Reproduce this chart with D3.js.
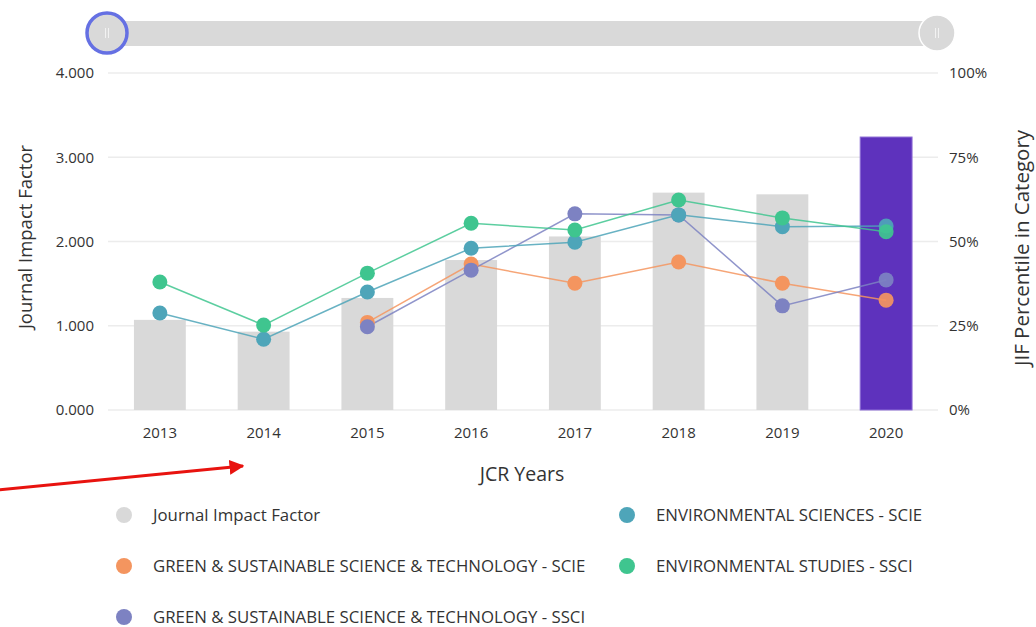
<!DOCTYPE html>
<html><head><meta charset="utf-8">
<script src="https://cdn.jsdelivr.net/npm/d3@7"></script>
<style>body{margin:0;background:#fff}svg{display:block;font-family:"Open Sans","Noto Sans",sans-serif}</style>
</head><body><svg id="c" width="1036" height="627"></svg>
<script>
const years = ["2013","2014","2015","2016","2017","2018","2019","2020"];
const jif = [1.07, 0.93, 1.33, 1.78, 2.06, 2.58, 2.56, 3.24];
const envSciScie = [28.8, 21.0, 35.0, 48.0, 49.8, 57.9, 54.4, 54.6];
const envStudSsci = [38.0, 25.2, 40.6, 55.4, 53.4, 62.3, 57.0, 52.9];
const greenScie = [null, null, 26.0, 43.3, 37.6, 43.9, 37.6, 32.6];
const greenSsci = [null, null, 24.7, 41.5, 58.2, 57.9, 30.9, 38.6];
const leftTicks = [0, 1, 2, 3, 4];
const rightTicks = [0, 25, 50, 75, 100];
const legendItems = ["Journal Impact Factor","ENVIRONMENTAL SCIENCES - SCIE","GREEN & SUSTAINABLE SCIENCE & TECHNOLOGY - SCIE","ENVIRONMENTAL STUDIES - SSCI","GREEN & SUSTAINABLE SCIENCE & TECHNOLOGY - SSCI"];

const series = [
  {name:"GREEN & SUSTAINABLE SCIENCE & TECHNOLOGY - SCIE", vals:greenScie, color:"#f4955f"},
  {name:"GREEN & SUSTAINABLE SCIENCE & TECHNOLOGY - SSCI", vals:greenSsci, color:"#7d82c2"},
  {name:"ENVIRONMENTAL SCIENCES - SCIE", vals:envSciScie, color:"#4ea5b9"},
  {name:"ENVIRONMENTAL STUDIES - SSCI", vals:envStudSsci, color:"#3fc58f"}
];
const legendColors = {"Journal Impact Factor":"#d9d9d9"};
series.forEach(s=>legendColors[s.name]=s.color);

const FONT = '"Open Sans","Noto Sans",sans-serif';
const svg = d3.select("#c");
const L=108, R=938, T=73, B=410;
const x = d3.scaleBand().domain(years).range([L,R]).paddingInner(0.5).paddingOuter(0.25);
const yL = d3.scaleLinear().domain([0,4]).range([B,T]);
const yR = d3.scaleLinear().domain([0,100]).range([B,T]);

// slider
svg.append("rect").attr("x",107).attr("y",21).attr("width",830).attr("height",25).attr("fill","#d9d9d9");
svg.append("circle").attr("cx",937).attr("cy",33).attr("r",18).attr("fill","#d9d9d9").attr("stroke","#fff").attr("stroke-width",1.5);
svg.append("circle").attr("cx",107).attr("cy",33).attr("r",20).attr("fill","#d9d9d9").attr("stroke","#6570e3").attr("stroke-width",3.5);
[107,937].forEach(cx=>{
  [-1.5,1.5].forEach(dx=>svg.append("line").attr("x1",cx+dx).attr("x2",cx+dx).attr("y1",28).attr("y2",38).attr("stroke","#f2f2f2").attr("stroke-width",1));
});

// gridlines
svg.append("g").selectAll("line").data(leftTicks).join("line")
  .attr("x1",L).attr("x2",R).attr("y1",d=>yL(d)).attr("y2",d=>yL(d))
  .attr("stroke","#ececec").attr("stroke-width",1.5);

// axes
const gl = svg.append("g").attr("transform",`translate(${L},0)`)
  .call(d3.axisLeft(yL).tickValues(leftTicks).tickFormat(d3.format(".3f")).tickSize(0).tickPadding(14));
const gr = svg.append("g").attr("transform",`translate(${R},0)`)
  .call(d3.axisRight(yR).tickValues(rightTicks).tickFormat(d=>d+"%").tickSize(0).tickPadding(11));
const gx = svg.append("g").attr("transform",`translate(0,${B})`)
  .call(d3.axisBottom(x).tickSize(0).tickPadding(17));
[gl,gr,gx].forEach(g=>{g.select(".domain").remove();g.selectAll("text").attr("font-size",15).attr("fill","#333").attr("font-family",FONT);});

// axis titles
svg.append("text").attr("transform","translate(32,237) rotate(-90)").attr("text-anchor","middle")
  .attr("font-size",18.5).attr("fill","#333").attr("font-family",FONT).text("Journal Impact Factor");
svg.append("text").attr("transform","translate(1029,248) rotate(-90)").attr("text-anchor","middle")
  .attr("font-size",20.5).attr("fill","#333").attr("font-family",FONT).text("JIF Percentile in Category");
svg.append("text").attr("x",522).attr("y",481).attr("text-anchor","middle")
  .attr("font-size",19.5).attr("fill","#333").attr("font-family",FONT).text("JCR Years");

// bars
svg.append("g").selectAll("rect").data(years).join("rect")
  .attr("x",d=>x(d)).attr("width",x.bandwidth())
  .attr("y",(d,i)=>yL(jif[i])).attr("height",(d,i)=>B-yL(jif[i]))
  .attr("fill",(d,i)=>i===years.length-1?"#5e32bd":"#d9d9d9")
  .attr("stroke",(d,i)=>i===years.length-1?"#8e6fd6":"none").attr("stroke-width",1);

// lines and points
const cx = d=>x(d)+x.bandwidth()/2;
series.forEach(s=>{
  const data = years.map((yr,i)=>({yr,v:s.vals[i]})).filter(d=>d.v!=null);
  svg.append("path").datum(data)
    .attr("d",d3.line().x(d=>cx(d.yr)).y(d=>yR(d.v)))
    .attr("fill","none").attr("stroke",s.color).attr("stroke-width",1.5).attr("stroke-opacity",0.85);
});
series.forEach(s=>{
  const data = years.map((yr,i)=>({yr,v:s.vals[i]})).filter(d=>d.v!=null);
  svg.append("g").selectAll("circle").data(data).join("circle")
    .attr("cx",d=>cx(d.yr)).attr("cy",d=>yR(d.v)).attr("r",7.5)
    .attr("fill",s.color).attr("fill-opacity",d=>d.yr==="2020"?0.92:1);
});

// legend
const legPos = [[124,515],[627,515],[124,566],[627,566],[124,617]];
legendItems.forEach((name,i)=>{
  const [lx,ly]=legPos[i];
  svg.append("circle").attr("cx",lx).attr("cy",ly).attr("r",8).attr("fill",legendColors[name]);
  svg.append("text").attr("x",lx+29).attr("y",ly).attr("dy","0.35em").attr("font-size",16.8).attr("fill","#333")
    .attr("font-family",FONT).text(name);
});

// red annotation arrow
svg.append("defs").append("marker").attr("id","ah").attr("viewBox","0 0 10 10").attr("refX",9).attr("refY",5)
  .attr("markerWidth",5).attr("markerHeight",5).attr("orient","auto")
  .append("path").attr("d","M0,0L10,5L0,10z").attr("fill","#e8130f");
svg.append("line").attr("x1",-2).attr("y1",490).attr("x2",243).attr("y2",466)
  .attr("stroke","#e8130f").attr("stroke-width",3).attr("marker-end","url(#ah)");
</script></body></html>
